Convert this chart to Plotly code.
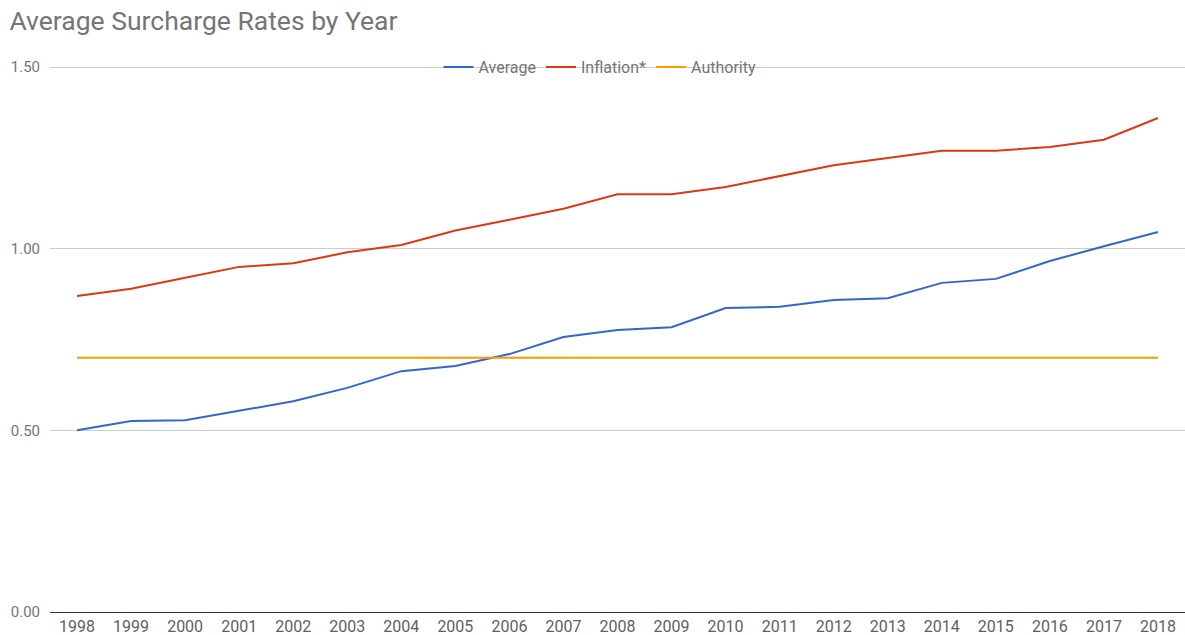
import plotly.graph_objects as go

years = [str(y) for y in range(1998, 2019)]
average = [0.50, 0.526, 0.528, 0.553, 0.58, 0.617, 0.663, 0.677, 0.71, 0.757, 0.776,
           0.784, 0.837, 0.84, 0.859, 0.864, 0.906, 0.917, 0.966, 1.007, 1.046]
inflation = [0.87, 0.89, 0.92, 0.95, 0.96, 0.99, 1.01, 1.05, 1.08, 1.11, 1.15,
             1.15, 1.17, 1.20, 1.23, 1.25, 1.27, 1.27, 1.28, 1.30, 1.36]
authority = [0.70] * len(years)

series = [("Average", average, "#3366cc"),
          ("Inflation*", inflation, "#dc3912"),
          ("Authority", authority, "#ff9900")]

fig = go.Figure()
for name, vals, color in series:
    fig.add_trace(go.Scatter(x=years, y=vals, name=name, mode="lines",
                             line=dict(color=color, width=2)))

font = "Roboto, Arial, sans-serif"
fig.update_layout(
    width=1185, height=635,
    margin=dict(l=50, r=0, t=66, b=23),
    paper_bgcolor="white", plot_bgcolor="white",
    font=dict(family=font, size=15, color="#5f5f5f"),
    title=dict(text="Average Surcharge Rates by Year", x=0.008, xanchor="left",
               y=0.968, yanchor="middle",
               font=dict(family=font, size=26.5, color="#757575")),
    legend=dict(orientation="h", x=0.4846, xanchor="center", y=0.998, yanchor="middle",
                bgcolor="rgba(0,0,0,0)", font=dict(size=16, color="#757575"),
                itemwidth=30, tracegroupgap=0),
    showlegend=True,
)
fig.update_xaxes(type="category", range=[-0.5, 20.5], showgrid=False,
                 showline=True, linecolor="#333333", linewidth=1,
                 ticks="", tickfont=dict(size=16, color="#5f5f5f"))
fig.update_yaxes(range=[0, 1.503], tickvals=[0, 0.5, 1.0, 1.5], tickformat=".2f",
                 showgrid=True, gridcolor="#cccccc", gridwidth=1, zeroline=False,
                 showline=False, ticks="outside", ticklen=6, tickcolor="white",
                 tickfont=dict(size=15, color="#757575"))

fig.write_html("out.html", config={"displayModeBar": False},
               post_script="document.body.style.margin='0';")
